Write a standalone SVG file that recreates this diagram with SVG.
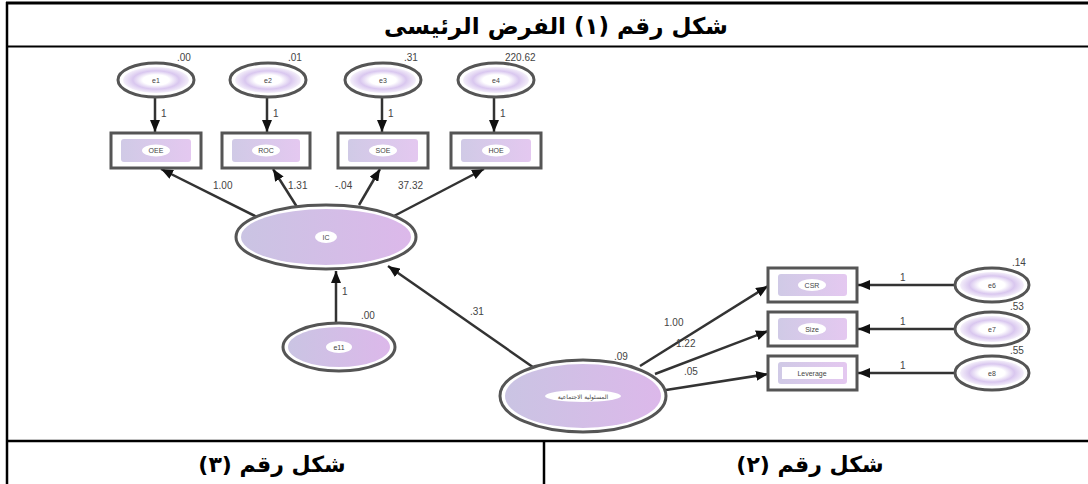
<svg xmlns="http://www.w3.org/2000/svg" width="1088" height="484" viewBox="0 0 1088 484">
<style>
.tbl{stroke:#000;stroke-width:2.5;fill:none}
.oe{fill:#fff;stroke:#555;stroke-width:3}
.ob{fill:#fff;stroke:#555;stroke-width:3}
.ie{fill:url(#gSmall)}
.ib{fill:url(#gBox)}
.iB{fill:url(#gBig)}
.hole{fill:#fff}
.lbl{font-family:"Liberation Sans",Arial,sans-serif;font-size:10px;fill:#444}
.nm{font-family:"Liberation Sans",Arial,sans-serif;font-size:7px;fill:#444;text-anchor:middle}
.ar{font-family:"DejaVu Sans","Noto Sans",sans-serif;font-weight:bold;font-size:22px;text-anchor:middle;fill:#000}
.conn line{stroke:#333;stroke-width:2.5;marker-end:url(#ah)}
</style>
<defs>
<marker id="ah" markerUnits="userSpaceOnUse" markerWidth="12" markerHeight="10" refX="12" refY="5" orient="auto">
<path d="M0,0 L12,5 L0,10 z" fill="#111"/>
</marker>
<radialGradient id="gSmall" cx="50%" cy="50%" r="50%">
<stop offset="0" stop-color="#ffffff"/>
<stop offset="0.4" stop-color="#ffffff"/>
<stop offset="0.7" stop-color="#d9c7ef"/>
<stop offset="1" stop-color="#f4effa"/>
</radialGradient>
<linearGradient id="gBox" x1="0" y1="0" x2="1" y2="0">
<stop offset="0" stop-color="#d0cae6"/>
<stop offset="1" stop-color="#e4c8f0"/>
</linearGradient>
<linearGradient id="gBig" x1="0" y1="0" x2="1" y2="0">
<stop offset="0" stop-color="#cac4e3"/>
<stop offset="1" stop-color="#dcb8ea"/>
</linearGradient>
</defs>

<g id="table">
<line class="tbl" x1="6" y1="3" x2="1088" y2="3" style="stroke-width:3"/>
<line class="tbl" x1="7" y1="2" x2="7" y2="484"/>
<line class="tbl" x1="6" y1="46.5" x2="1088" y2="46.5" style="stroke-width:2"/>
<line class="tbl" x1="6" y1="441" x2="1088" y2="441"/>
<line class="tbl" x1="544" y1="441" x2="544" y2="484"/>
</g>

<g id="titles">
<text class="ar" x="556" y="34" direction="rtl" style="font-size:23px">شكل رقم (١) الفرض الرئيسى</text>
<text class="ar" x="272" y="472" direction="rtl">شكل رقم (٣)</text>
<text class="ar" x="810" y="472" direction="rtl">شكل رقم (٢)</text>
</g>

<g class="conn" id="connectors">
<line x1="155" y1="98" x2="155" y2="132"/>
<line x1="267" y1="98" x2="267" y2="132"/>
<line x1="382" y1="98" x2="382" y2="132"/>
<line x1="494" y1="98" x2="494" y2="132"/>
<line x1="257" y1="217" x2="161" y2="169"/>
<line x1="297" y1="207" x2="273" y2="169"/>
<line x1="359" y1="205" x2="380" y2="169"/>
<line x1="394" y1="216" x2="484" y2="169"/>
<line x1="336" y1="322" x2="336" y2="271"/>
<line x1="540" y1="372" x2="388" y2="266"/>
<line x1="640" y1="366" x2="768" y2="286"/>
<line x1="655" y1="374" x2="768" y2="331"/>
<line x1="666" y1="390" x2="768" y2="374"/>
<line x1="955" y1="285" x2="858" y2="285"/>
<line x1="955" y1="329" x2="858" y2="329"/>
<line x1="955" y1="373" x2="858" y2="373"/>
</g>

<g id="e1"><ellipse class="oe" cx="156" cy="80" rx="38" ry="17"/><ellipse class="ie" cx="156" cy="80" rx="33" ry="13"/><text class="nm" x="156" y="82.5">e1</text><text class="lbl" x="177" y="61">.00</text></g>
<g id="e2"><ellipse class="oe" cx="268" cy="80" rx="38" ry="17"/><ellipse class="ie" cx="268" cy="80" rx="33" ry="13"/><text class="nm" x="268" y="82.5">e2</text><text class="lbl" x="288" y="61">.01</text></g>
<g id="e3"><ellipse class="oe" cx="383" cy="80" rx="38" ry="17"/><ellipse class="ie" cx="383" cy="80" rx="33" ry="13"/><text class="nm" x="383" y="82.5">e3</text><text class="lbl" x="404" y="61">.31</text></g>
<g id="e4"><ellipse class="oe" cx="496" cy="80" rx="38" ry="17"/><ellipse class="ie" cx="496" cy="80" rx="33" ry="13"/><text class="nm" x="496" y="82.5">e4</text><text class="lbl" x="505" y="61">220.62</text></g>

<g id="lbl1s">
<text class="lbl" x="161" y="117">1</text>
<text class="lbl" x="273" y="117">1</text>
<text class="lbl" x="388" y="117">1</text>
<text class="lbl" x="500" y="117">1</text>
</g>

<g id="OEE"><rect class="ob" x="111" y="133" width="90" height="35"/><rect class="ib" x="121" y="139" width="70" height="23" rx="3"/><ellipse class="hole" cx="156" cy="150.5" rx="14" ry="6"/><text class="nm" x="156" y="153">OEE</text></g>
<g id="ROC"><rect class="ob" x="222" y="133" width="88" height="35"/><rect class="ib" x="232" y="139" width="68" height="23" rx="3"/><ellipse class="hole" cx="266" cy="150.5" rx="14" ry="6"/><text class="nm" x="266" y="153">ROC</text></g>
<g id="SOE"><rect class="ob" x="338" y="133" width="90" height="35"/><rect class="ib" x="348" y="139" width="70" height="23" rx="3"/><ellipse class="hole" cx="383" cy="150.5" rx="14" ry="6"/><text class="nm" x="383" y="153">SOE</text></g>
<g id="HOE"><rect class="ob" x="451" y="133" width="90" height="35"/><rect class="ib" x="461" y="139" width="70" height="23" rx="3"/><ellipse class="hole" cx="496" cy="150.5" rx="14" ry="6"/><text class="nm" x="496" y="153">HOE</text></g>

<g id="coefIC">
<text class="lbl" x="213" y="189">1.00</text>
<text class="lbl" x="288" y="189">1.31</text>
<text class="lbl" x="335" y="189">-.04</text>
<text class="lbl" x="398" y="189">37.32</text>
</g>

<g id="IC"><ellipse class="oe" cx="326" cy="237" rx="90" ry="32"/><ellipse class="iB" cx="326" cy="237" rx="85" ry="28"/><ellipse class="hole" cx="326" cy="237" rx="11" ry="6"/><text class="nm" x="326" y="239.5">IC</text></g>

<g id="e11"><ellipse class="oe" cx="339" cy="347" rx="56" ry="24"/><ellipse class="iB" cx="339" cy="347" rx="51" ry="20"/><ellipse class="hole" cx="339" cy="347" rx="13" ry="6"/><text class="nm" x="339" y="349.5">e11</text><text class="lbl" x="361" y="319">.00</text><text class="lbl" x="342" y="295">1</text></g>

<text class="lbl" x="470" y="315">.31</text>

<g id="CSRlatent"><ellipse class="oe" cx="583" cy="396" rx="83" ry="36"/><ellipse class="iB" cx="583" cy="396" rx="78" ry="32"/><ellipse class="hole" cx="583" cy="396" rx="38" ry="6"/><text class="nm" x="583" y="398.5" style="font-family:'DejaVu Sans',sans-serif;font-size:6px">المسئولية الاجتماعية</text><text class="lbl" x="614" y="360">.09</text></g>

<g id="coefCSR">
<text class="lbl" x="664" y="326">1.00</text>
<text class="lbl" x="676" y="347">1.22</text>
<text class="lbl" x="684" y="375">.05</text>
</g>

<g id="CSR"><rect class="ob" x="768" y="268" width="89" height="34"/><rect class="ib" x="778" y="274" width="69" height="22" rx="3"/><ellipse class="hole" cx="812" cy="285" rx="14" ry="6"/><text class="nm" x="812" y="287.5">CSR</text></g>
<g id="Size"><rect class="ob" x="768" y="312" width="89" height="34"/><rect class="ib" x="778" y="318" width="69" height="22" rx="3"/><ellipse class="hole" cx="812" cy="329" rx="14" ry="6"/><text class="nm" x="812" y="331.5">Size</text></g>
<g id="Leverage"><rect class="ob" x="768" y="356" width="89" height="34"/><rect class="ib" x="778" y="362" width="69" height="22" rx="3"/><rect class="hole" x="782" y="367" width="61" height="12"/><text class="nm" x="812" y="375.5">Leverage</text></g>

<g id="e6"><ellipse class="oe" cx="992" cy="285" rx="37" ry="17"/><ellipse class="ie" cx="992" cy="285" rx="32" ry="13"/><text class="nm" x="992" y="287.5">e6</text><text class="lbl" x="1012" y="266">.14</text><text class="lbl" x="900" y="281">1</text></g>
<g id="e7"><ellipse class="oe" cx="992" cy="329" rx="37" ry="17"/><ellipse class="ie" cx="992" cy="329" rx="32" ry="13"/><text class="nm" x="992" y="331.5">e7</text><text class="lbl" x="1010" y="310">.53</text><text class="lbl" x="900" y="325">1</text></g>
<g id="e8"><ellipse class="oe" cx="992" cy="373" rx="37" ry="17"/><ellipse class="ie" cx="992" cy="373" rx="32" ry="13"/><text class="nm" x="992" y="375.5">e8</text><text class="lbl" x="1010" y="354">.55</text><text class="lbl" x="900" y="369">1</text></g>
</svg>
